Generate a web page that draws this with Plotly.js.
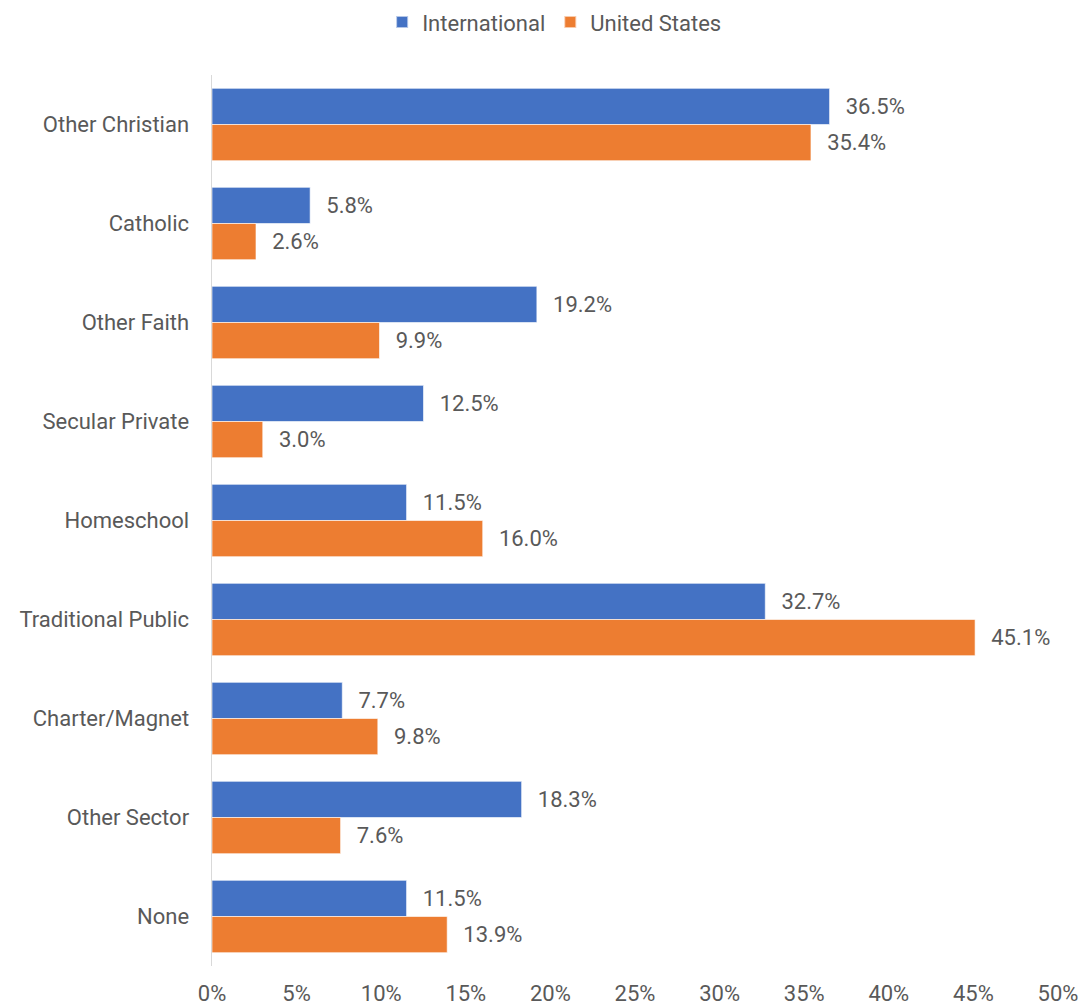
<!DOCTYPE html>
<html>
<head>
<meta charset="utf-8">
<script src="https://cdn.plot.ly/plotly-3.0.1.min.js"></script>
<style>html,body{margin:0;padding:0;background:#fff;}#chart{width:1084px;height:1006px;}</style>
</head>
<body>
<div id="chart"></div>
<script>
const categories = ["Other Christian","Catholic","Other Faith","Secular Private","Homeschool","Traditional Public","Charter/Magnet","Other Sector","None"];
const international = [36.5, 5.8, 19.2, 12.5, 11.5, 32.7, 7.7, 18.3, 11.5];
const unitedStates = [35.4, 2.6, 9.9, 3.0, 16.0, 45.1, 9.8, 7.6, 13.9];
const tickVals = [0,5,10,15,20,25,30,35,40,45,50];
const tickText = tickVals.map(v => v + "%");

const pad = "\u00A0\u00A0\u200A";
const fontFam = "Roboto, 'Open Sans', Arial, sans-serif";
const gray = "#595959";

function mk(name, vals, color){
  return {
    type: "bar", orientation: "h", name: name,
    y: categories, x: vals,
    marker: {color: color, line: {color: "rgba(255,255,255,0.6)", width: 1}},
    text: vals.map(v => pad + v.toFixed(1) + "%"),
    textposition: "outside",
    textfont: {family: fontFam, size: 22, color: gray},
    cliponaxis: false,
    hoverinfo: "skip"
  };
}

const data = [mk("International", international, "#4472C4"), mk("United States", unitedStates, "#ED7D31")];

const layout = {
  width: 1084, height: 1006,
  margin: {l: 212, r: 26, t: 75, b: 40},
  paper_bgcolor: "#fff", plot_bgcolor: "#fff",
  barmode: "group", bargap: 0.27, bargroupgap: 0,
  font: {family: fontFam, size: 22, color: gray},
  showlegend: true,
  legend: {orientation: "h", x: 0.405, xanchor: "center", yref: "container", y: 0.978, yanchor: "middle",
           font: {family: fontFam, size: 22, color: gray}, itemsizing: "constant", traceorder: "normal"},
  xaxis: {range: [0, 50], tickvals: tickVals, ticktext: tickText, showgrid: false, zeroline: false, automargin: false,
          showline: false, ticks: "", ticklabelstandoff: 12, tickfont: {family: fontFam, size: 22, color: gray}, fixedrange: true},
  yaxis: {autorange: "reversed", showgrid: false, zeroline: false, showline: true, linecolor: "#D9D9D9", linewidth: 1.5, automargin: false,
          ticks: "", ticklabelstandoff: 17, tickfont: {family: fontFam, size: 22, color: gray}, fixedrange: true}
};

Plotly.newPlot("chart", data, layout, {displayModeBar: false, staticPlot: true});
</script>
</body>
</html>
